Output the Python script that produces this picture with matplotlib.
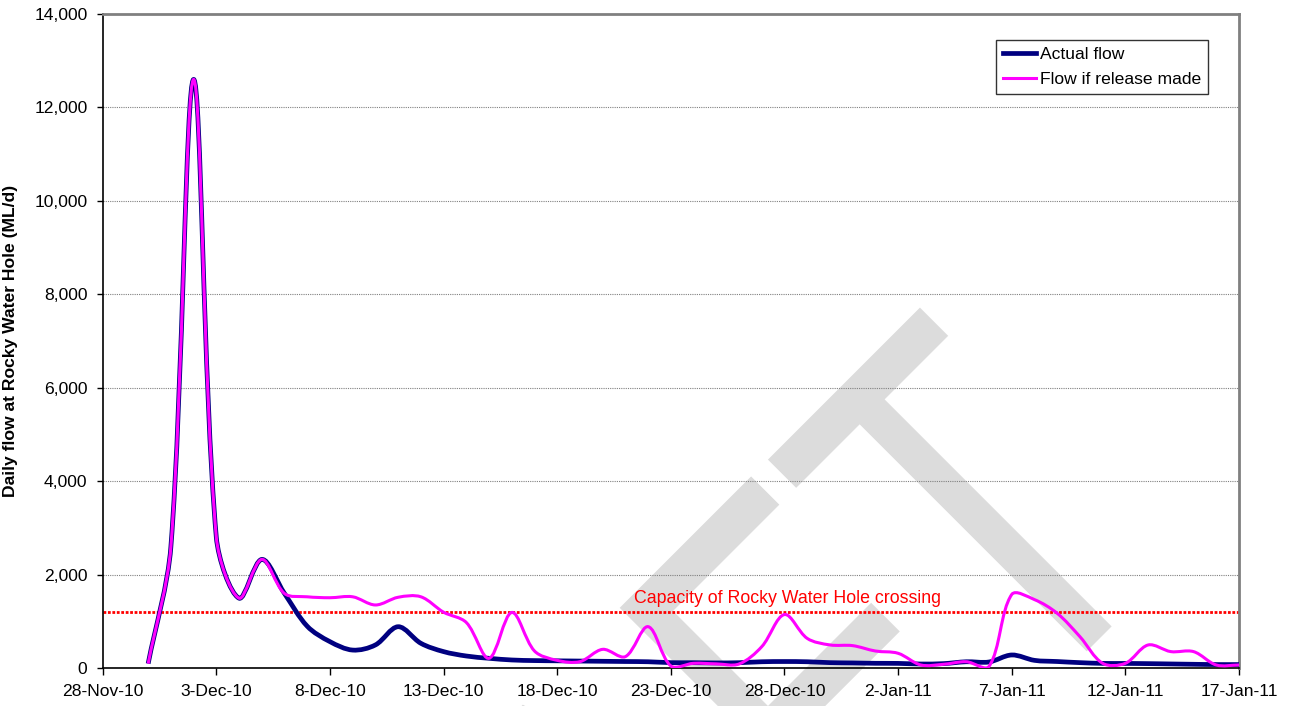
import datetime
import numpy as np
import pandas as pd
import matplotlib
matplotlib.use("Agg")
import matplotlib.pyplot as plt
import matplotlib.dates as mdates
from matplotlib.path import Path
from matplotlib.patches import PathPatch
from matplotlib.lines import Line2D
from matplotlib.textpath import TextPath
from matplotlib.font_manager import FontProperties
from matplotlib.transforms import Affine2D
from matplotlib.ticker import FuncFormatter, MultipleLocator, FixedLocator

plt.rcParams['font.family'] = ['Liberation Sans', 'DejaVu Sans']

### Data ###

first_day = "2010-11-30"

# Daily flow at Rocky Water Hole (ML/d), 30-Nov-10 to 17-Jan-11
actual_flow = [
    100, 2600, 12600, 2800, 1500, 2330, 1600, 900, 570, 390,
    500, 890, 535, 357, 263, 214, 178, 165, 160, 155,
    150, 145, 140, 121, 120, 115, 120, 140, 145, 140,
    121, 115, 107, 105, 92, 100, 140, 135, 285, 170,
    145, 121, 105, 104, 100, 93, 86, 80, 80,
]
release_flow = [
    100, 2600, 12600, 2800, 1500, 2330, 1600, 1530, 1510, 1530,
    1355, 1520, 1530, 1200, 980, 214, 1195, 370, 170, 143,
    406, 250, 891, 50, 107, 95, 92, 463, 1150, 640,
    500, 485, 370, 321, 71, 86, 141, 40, 1580, 1470,
    1177, 677, 107, 107, 499, 357, 357, 71, 71,
]

crossing_capacity = 1200
capacity_label = "Capacity of Rocky Water Hole crossing"

series_labels = ["Actual flow", "Flow if release made"]
series_colors = ["#000080", "#FF00FF"]
series_widths = [3.4, 2.2]

x_start = datetime.datetime(2010, 11, 28)
x_end = datetime.datetime(2011, 1, 17)
tick_step_days = 5
y_max = 14000

### End data ###

W, H = 1295, 706
fig = plt.figure(figsize=(W / 100, H / 100), dpi=100)
ax = fig.add_axes([102.7 / W, 1 - 668.3 / H, (1239 - 102.7) / W, (668.3 - 14) / H])
ax.set_facecolor('none')

x0, x1 = mdates.date2num(x_start), mdates.date2num(x_end)
ax.set_xlim(x0, x1)
ax.set_ylim(0, y_max)

dates = mdates.date2num(pd.date_range(first_day, periods=len(actual_flow)).to_pydatetime())

# pixels per data unit, so the smoothing is judged on screen
bbox = ax.get_window_extent()
kx = bbox.width / (x1 - x0)
ky = bbox.height / y_max


def smooth_path(x, y, f=1 / 3):
    """Bezier through every point; handles scale with neighbouring segment lengths."""
    p = np.column_stack([x, y]).astype(float)
    n = len(p)
    seg = np.hypot(np.diff(p[:, 0]) * kx, np.diff(p[:, 1]) * ky)
    tan = np.empty_like(p)
    tan[1:-1] = p[2:] - p[:-2]
    tan[0] = 2 * (p[1] - p[0])
    tan[-1] = 2 * (p[-1] - p[-2])
    verts = [p[0]]
    codes = [Path.MOVETO]
    for i in range(n - 1):
        la = seg[i - 1] if i > 0 else seg[i]
        lb = seg[i + 1] if i < n - 2 else seg[i]
        c1 = p[i] + tan[i] * f * seg[i] / (la + seg[i])
        c2 = p[i + 1] - tan[i + 1] * f * seg[i] / (seg[i] + lb)
        verts += [c1, c2, p[i + 1]]
        codes += [Path.CURVE4] * 3
    return Path(verts, codes)


for vals, col, lw in zip([actual_flow, release_flow], series_colors, series_widths):
    ax.add_patch(PathPatch(smooth_path(dates, vals), fill=False, edgecolor=col,
                           linewidth=lw, capstyle='butt', joinstyle='round', zorder=3))

# capacity of the crossing
ax.axhline(crossing_capacity, color='#FF0000', linestyle=(0, (1, 0.6)), linewidth=2.0, zorder=2)
ax.text(x0 + 30.15, crossing_capacity + 300, capacity_label,
        color='#FF0000', fontsize=12.8, ha='center', va='center', zorder=4)

ax.xaxis.set_major_locator(FixedLocator(np.arange(x0, x1 + 0.5, tick_step_days)))
ax.xaxis.set_major_formatter(FuncFormatter(
    lambda v, pos: (lambda d: f"{d.day}-{d.strftime('%b-%y')}")(mdates.num2date(v))))
ax.yaxis.set_major_locator(MultipleLocator(2000))
ax.yaxis.set_major_formatter(FuncFormatter(lambda v, pos: f"{v:,.0f}"))

ax.tick_params(axis='x', direction='out', length=5, width=1, pad=6, labelsize=12.6)
ax.tick_params(axis='y', direction='out', length=4, width=1, pad=7, labelsize=12.6)

ax.grid(True, axis='y', linestyle=(0, (1, 1)), color='#808080', linewidth=0.8, zorder=1)
ax.set_axisbelow(True)

for side in ('top', 'right'):
    ax.spines[side].set_color('#808080')
    ax.spines[side].set_linewidth(2)
for side in ('left', 'bottom'):
    ax.spines[side].set_color('black')
    ax.spines[side].set_linewidth(1.2)

ax.set_ylabel("Daily flow at Rocky Water Hole (ML/d)", fontsize=12.6, fontweight='bold', labelpad=12)

handles = [Line2D([], [], color=c, linewidth=lw) for c, lw in zip(series_colors, series_widths)]
leg = ax.legend(handles, series_labels, loc='upper right', bbox_to_anchor=(1208 / W, 1 - 40 / H),
                bbox_transform=fig.transFigure, fontsize=12.6, frameon=True, fancybox=False,
                shadow=False, borderaxespad=0, borderpad=0.4, handlelength=1.9,
                handletextpad=0.2, labelspacing=0.55)
leg.get_frame().set_edgecolor('black')
leg.get_frame().set_linewidth(1.0)

# faint "DRAFT" watermark behind the chart, rotated 45 degrees
fp = FontProperties(family='Liberation Sans')
word = TextPath((0, 0), "DRAFT", size=1, prop=fp)
last = TextPath((0, 0), "T", size=1, prop=fp).get_extents()
off = word.get_extents().x1 - last.x1
tx0, tx1, cap = last.x0 + off, last.x1 + off, last.y1
a0, n0 = 218.0, 1229.0
sx, sy = 215.0 / (tx1 - tx0), 361.0 / cap
r = np.sqrt(2)
wm = Affine2D(np.array([
    [sx / r, -sy / r, (a0 - tx0 * sx + n0) / r],
    [sx / r, sy / r, H - (n0 - a0 + tx0 * sx) / r],
    [0, 0, 1],
]))
fig.add_artist(PathPatch(word, transform=wm, facecolor='#DCDCDC', edgecolor='none', zorder=-1))

fig.savefig("out.png", dpi=100)
